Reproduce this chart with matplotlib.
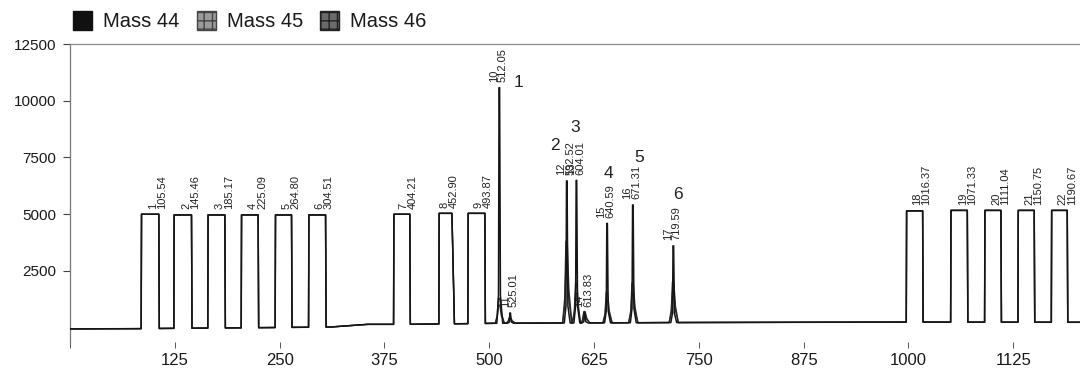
import numpy as np
import matplotlib
matplotlib.use("Agg")
import matplotlib.pyplot as plt
from matplotlib.patches import Patch

plt.rcParams['font.family'] = ['Liberation Sans', 'DejaVu Sans']

# ---------------- data ----------------
# reference-gas rectangular pulses
pulse_numbers = [1, 2, 3, 4, 5, 6, 7, 8, 9, 18, 19, 20, 21, 22]
pulse_times = [105.54, 145.46, 185.17, 225.09, 264.80, 304.51, 404.21, 452.90,
               493.87, 1016.37, 1071.33, 1111.04, 1150.75, 1190.67]
pulse_start = [85.3, 124.2, 164.7, 204.6, 245.1, 284.9, 386.3, 440.3, 474.9,
               997.8, 1050.7, 1091.2, 1131.0, 1170.8]
pulse_end = [105.9, 144.9, 184.7, 224.4, 264.2, 304.8, 405.3, 455.5, 494.8,
             1016.9, 1070.2, 1110.3, 1150.0, 1189.4]
pulse_height = [5000, 4970, 4970, 4970, 4970, 4970, 5000, 5040, 5040,
                5150, 5170, 5170, 5170, 5170]

# sample peaks
peak_numbers = [10, 11, 12, 13, 14, 15, 16, 17]
peak_times = [512.05, 525.01, 592.52, 604.01, 613.83, 640.59, 671.31, 719.59]
mass44_height = [10380, 450, 6260, 6280, 450, 4380, 5190, 3380]
mass45_height = [1100, 250, 3600, 1750, 500, 1350, 1750, 1800]
mass46_height = [800, 200, 2500, 1300, 400, 1000, 1300, 1300]

# slowly drifting baseline
baseline_t = [0, 80, 310, 355, 400, 520, 730, 1000, 1205]
baseline_v = [-50, -40, 30, 150, 150, 200, 230, 250, 240]

# hand-written compound numbers
compound_labels = ['1', '2', '3', '4', '5', '6']
compound_t = [535.0, 578.7, 602.8, 642.5, 678.3, 725.4]
compound_v = [10800, 8015, 8820, 6795, 7500, 5890]

x_ticks = [0, 125, 250, 375, 500, 625, 750, 875, 1000, 1125]
y_ticks = [2500, 5000, 7500, 10000, 12500]
series_names = ['Mass 44', 'Mass 45', 'Mass 46']


# ---------------- trace construction ----------------
def base_at(t):
    return float(np.interp(t, baseline_t, baseline_v))


def build_trace(peak_heights, wide):
    verts = []
    busy = []
    for s, e, h in zip(pulse_start, pulse_end, pulse_height):
        fall = 3.0 if (e - s) < 17 else 0.6
        pts = [(s - 0.4, base_at(s - 0.4)), (s, h), (e, h), (e + fall, base_at(e + fall))]
        verts += pts
        busy.append((s - 0.4, e + fall))
    for t, h in zip(peak_times, peak_heights):
        b = base_at(t)
        if wide:
            pts = [(t - 5, b), (t - 2.5, b + 0.3 * h), (t - 1.0, b + h),
                   (t + 0.5, b + h), (t + 2.5, b + 0.4 * h), (t + 6, b)]
        else:
            pts = [(t - 3, b), (t - 1.0, b + 0.12 * h), (t - 0.35, b + h),
                   (t + 0.35, b + h), (t + 1.3, b + 0.12 * h), (t + 4, b)]
        verts += pts
        busy.append((pts[0][0], pts[-1][0]))
    for t, v in zip(baseline_t, baseline_v):
        if not any(a <= t <= b for a, b in busy):
            verts.append((t, v))
    verts.sort(key=lambda p: p[0])
    xs = [p[0] for p in verts]
    ys = [p[1] for p in verts]
    return xs, ys


# ---------------- figure ----------------
W, H = 1080, 374
fig = plt.figure(figsize=(W / 100, H / 100), dpi=100)
ax = fig.add_axes([70 / W, 1 - 342 / H, 1 - 70 / W, (342 - 44) / H])

x46, y46 = build_trace(mass46_height, True)
x45, y45 = build_trace(mass45_height, True)
x44, y44 = build_trace(mass44_height, False)
ax.plot(x46, y46, color='#3a3a3a', lw=1.0, zorder=2)
ax.plot(x45, y45, color='#2a2a2a', lw=1.0, zorder=3)
ax.plot(x44, y44, color='#151515', lw=1.1, zorder=4)

ax.set_xlim(0, 1204.6)
ax.set_ylim(-628, 12500)

# labels over pulses and peaks
lab_kw = dict(rotation=90, ha='center', va='bottom', fontsize=8, color='#222')
for n, t, h in zip(pulse_numbers, pulse_times, pulse_height):
    ax.text(t - 6.6, h + 250, str(n), **lab_kw)
    ax.text(t + 4.2, h + 250, f'{t:.2f}', **lab_kw)
for n, t, h in zip(peak_numbers, peak_times, mass44_height):
    y = base_at(t) + h + 250
    ax.text(t - 6.6, y, str(n), **lab_kw)
    ax.text(t + 4.2, y, f'{t:.2f}', **lab_kw)

for s, t, v in zip(compound_labels, compound_t, compound_v):
    ax.text(t, v, s, ha='center', va='center', fontsize=12.5, color='#222')

# axes styling
for side in ('right', 'bottom'):
    ax.spines[side].set_visible(False)
ax.spines['top'].set_linestyle((0, (1.5, 1)))
ax.spines['top'].set_color('#8a8a8a')
ax.spines['top'].set_linewidth(0.9)
ax.spines['left'].set_linestyle((0, (3, 1)))
ax.spines['left'].set_color('#777')
ax.spines['left'].set_linewidth(0.9)

ax.set_xticks(x_ticks)
ax.set_xticklabels([''] + [str(v) for v in x_ticks[1:]])
ax.set_yticks(y_ticks)
ax.set_yticklabels([str(v) for v in y_ticks])
ax.tick_params(axis='x', length=4.3, width=0.7, color='#555', pad=3.6,
               labelsize=12, labelcolor='#1a1a1a')
ax.tick_params(axis='y', length=5, width=0.8, color='#444', pad=5,
               labelsize=11, labelcolor='#1a1a1a')

handles = [Patch(facecolor='#111111', edgecolor='#111111'),
           Patch(facecolor='#9a9a9a', edgecolor='#444444', hatch='++'),
           Patch(facecolor='#6a6a6a', edgecolor='#222222', hatch='++')]
fig.legend(handles, series_names, loc='upper left',
           bbox_to_anchor=(73 / W, 1 - 11 / H), ncol=3, frameon=False,
           fontsize=14.5, handlelength=0.95, handleheight=1.05,
           handletextpad=0.55, columnspacing=0.85, borderpad=0,
           borderaxespad=0, labelcolor='#1a1a1a')

fig.savefig('out.png', dpi=100)
